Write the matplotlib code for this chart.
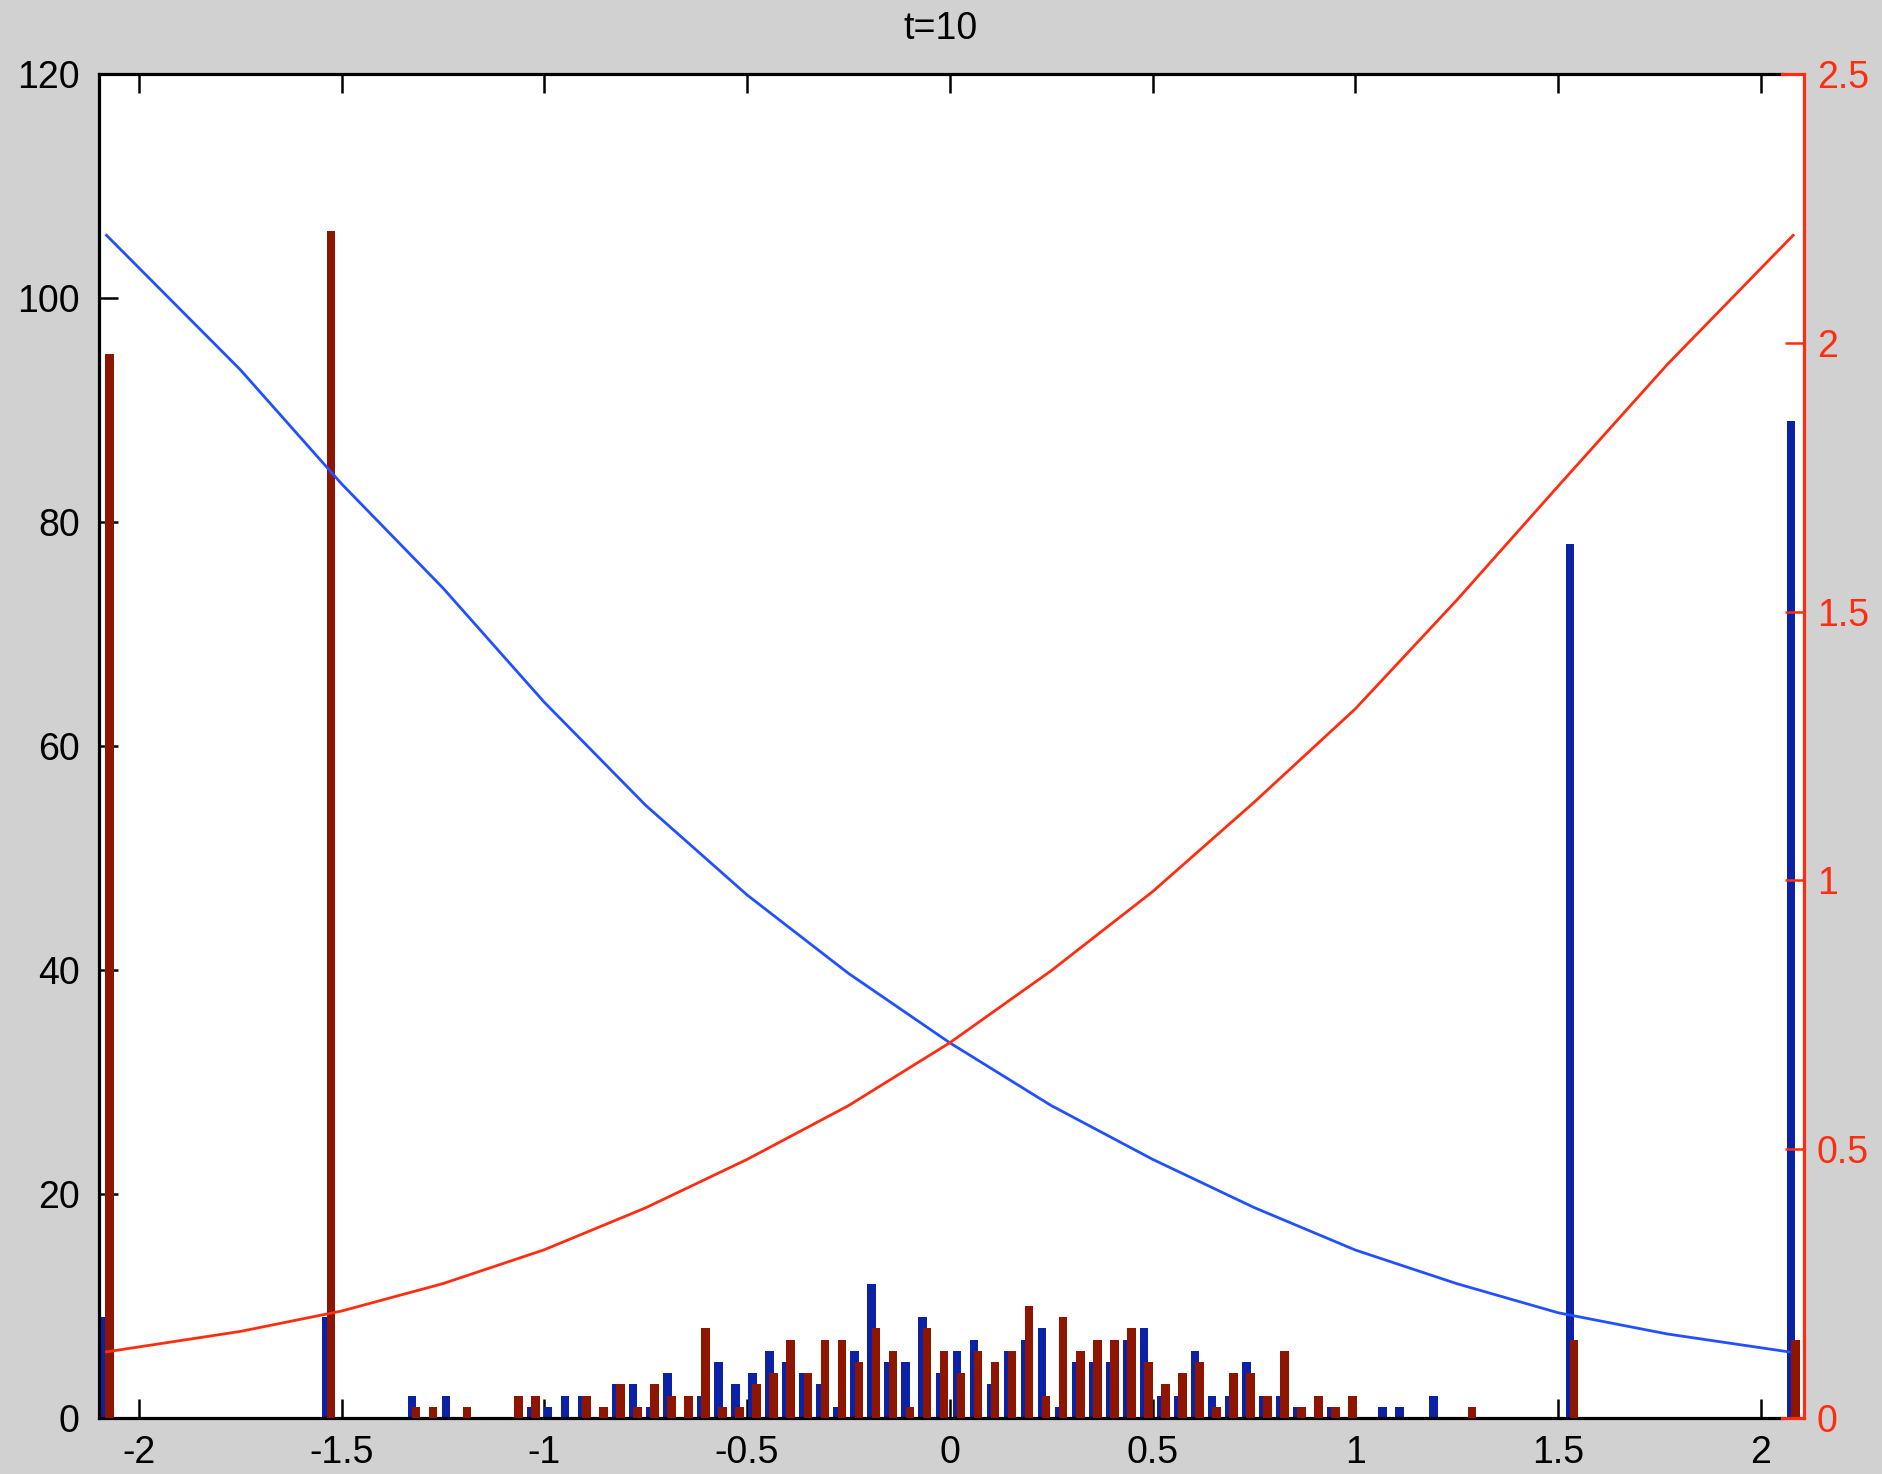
import numpy as np
import matplotlib
matplotlib.use("Agg")
import matplotlib.pyplot as plt

plt.rcParams['font.family'] = ['Liberation Sans', 'DejaVu Sans']
plt.rcParams['axes.unicode_minus'] = False

# ---------------- data ----------------
title = "t=10"
# histogram bin centres (100 bins)
bin_centers = np.linspace(-2.0723, 2.0857, 100)

blue_counts = [
    9, 0, 0, 0, 0, 0, 0, 0, 0, 0,
    0, 0, 0, 9, 0, 0, 0, 0, 2, 0,
    2, 0, 0, 0, 0, 1, 1, 2, 2, 0,
    3, 3, 1, 4, 0, 2, 5, 3, 4, 6,
    5, 4, 3, 1, 6, 12, 5, 5, 9, 4,
    6, 7, 3, 6, 7, 8, 1, 5, 5, 5,
    7, 8, 2, 2, 6, 2, 2, 5, 2, 2,
    1, 0, 1, 0, 0, 1, 1, 0, 2, 0,
    0, 0, 0, 0, 0, 0, 78, 0, 0, 0,
    0, 0, 0, 0, 0, 0, 0, 0, 0, 89,
]
red_counts = [
    95, 0, 0, 0, 0, 0, 0, 0, 0, 0,
    0, 0, 0, 106, 0, 0, 0, 0, 1, 1,
    0, 1, 0, 0, 2, 2, 0, 0, 2, 1,
    3, 1, 3, 2, 2, 8, 1, 1, 3, 4,
    7, 4, 7, 7, 5, 8, 6, 1, 8, 6,
    4, 6, 5, 6, 10, 2, 9, 6, 7, 7,
    8, 5, 3, 4, 5, 1, 4, 4, 2, 6,
    1, 2, 1, 2, 0, 0, 0, 0, 0, 0,
    1, 0, 0, 0, 0, 0, 7, 0, 0, 0,
    0, 0, 0, 0, 0, 0, 0, 0, 0, 7,
]

# curves (blue on left axis, red on right axis)
blue_line_x = [-2.08, -1.75, -1.5, -1.25, -1.0, -0.75, -0.5, -0.25, 0.0,
               0.25, 0.5, 0.75, 1.0, 1.25, 1.5, 1.77, 2.07]
blue_line_y = [105.6, 93.6, 83.4, 74.1, 63.9, 54.7, 46.7, 39.7, 33.5,
               27.9, 23.1, 18.8, 15.0, 12.0, 9.4, 7.5, 5.9]
red_line_x = [-2.08, -1.75, -1.5, -1.25, -1.0, -0.75, -0.5, -0.25, 0.0,
              0.25, 0.5, 0.75, 1.0, 1.25, 1.5, 1.77, 2.08]
red_line_y = [0.123, 0.161, 0.199, 0.250, 0.313, 0.391, 0.481, 0.581, 0.698,
              0.832, 0.979, 1.145, 1.319, 1.521, 1.733, 1.960, 2.200]

xticks = [-2, -1.5, -1, -0.5, 0, 0.5, 1, 1.5, 2]
xticklabels = ["-2", "-1.5", "-1", "-0.5", "0", "0.5", "1", "1.5", "2"]
yticks_left = [0, 20, 40, 60, 80, 100, 120]
yticklabels_left = ["0", "20", "40", "60", "80", "100", "120"]
yticks_right = [0, 0.5, 1, 1.5, 2, 2.5]
yticklabels_right = ["0", "0.5", "1", "1.5", "2", "2.5"]

# ---------------- style ----------------
BG = "#d1d1d1"
BAR_BLUE = "#0b21a6"
BAR_RED = "#8e1600"
LINE_BLUE = "#2350ff"
LINE_RED = "#ff2d10"
AX_RED = "#ff2d10"
FS = 27

W, H = 1883, 1474
fig = plt.figure(figsize=(W / 100, H / 100), dpi=100, facecolor=BG)

left_px, right_px, top_px, bot_px = 99.3, 1804.3, 74.0, 1418.0
pos = [left_px / W, 1 - bot_px / H, (right_px - left_px) / W, (bot_px - top_px) / H]
ax = fig.add_axes(pos)
ax.set_facecolor("white")

xlim = (-2.0977, 2.1075)
ax.set_xlim(*xlim)
ax.set_ylim(0, 120)

bw = 0.021
off = 0.0105
ax.bar(bin_centers - off, blue_counts, width=bw, color=BAR_BLUE, linewidth=0, zorder=2)
ax.bar(bin_centers, red_counts, width=bw, color=BAR_RED, linewidth=0, zorder=3)
ax.plot(blue_line_x, blue_line_y, color=LINE_BLUE, lw=2.0, zorder=4)

ax.set_xticks(xticks)
ax.set_xticklabels(xticklabels)
ax.set_yticks(yticks_left)
ax.set_yticklabels(yticklabels_left)
ax.tick_params(axis='both', direction='in', length=14, width=1.8, colors='black',
               labelsize=FS, top=True, right=True)
ax.tick_params(axis='x', pad=12)
ax.tick_params(axis='y', pad=14)

x_split = 2.0525
for s in ['top', 'bottom']:
    ax.spines[s].set_bounds(xlim[0], x_split)
    ax.spines[s].set_linewidth(2.3)
ax.spines['left'].set_linewidth(2.3)
ax.spines['right'].set_visible(False)

ax2 = ax.twinx()
ax2.set_ylim(0, 2.5)
ax2.set_xlim(*xlim)
ax2.plot(red_line_x, red_line_y, color=LINE_RED, lw=2.0, zorder=5)
ax2.set_yticks(yticks_right)
ax2.set_yticklabels(yticklabels_right)
ax2.tick_params(axis='y', direction='in', length=14, width=1.8, colors=AX_RED,
                labelsize=FS, pad=9, left=False, right=True)
ax2.spines['left'].set_visible(False)
ax2.spines['right'].set_color(AX_RED)
ax2.spines['right'].set_linewidth(2.3)
for s in ['top', 'bottom']:
    ax2.spines[s].set_bounds(x_split, xlim[1])
    ax2.spines[s].set_color(AX_RED)
    ax2.spines[s].set_linewidth(2.3)

fig.text(940.5 / W, 1 - 29 / H, title, ha='center', va='center', fontsize=FS, color='black')

fig.savefig("out.png", dpi=100, facecolor=BG)
